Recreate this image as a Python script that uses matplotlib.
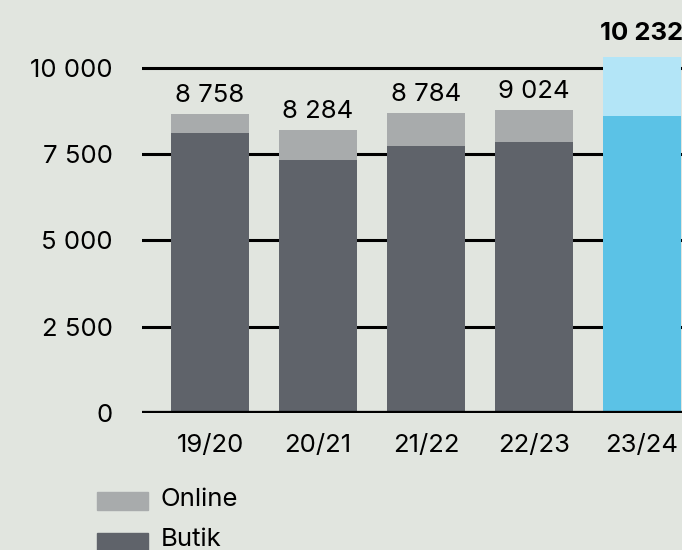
import numpy as np
import matplotlib.pyplot as plt
from matplotlib.patches import Rectangle

seasons = ["19/20", "20/21", "21/22", "22/23", "23/24"]
butik = [8106, 7325, 7730, 7846, 8597]
online = [549, 868, 963, 925, 1698]
totals = ["8 758", "8 284", "8 784", "9 024", "10 232"]
yticks = [0, 2500, 5000, 7500, 10000]
ytick_labels = ["0", "2 500", "5 000", "7 500", "10 000"]
series = ["Online", "Butik"]

BG = "#e1e5df"
DARK = "#5f636a"
LIGHT = "#a8abac"
BLUE = "#5bc2e6"
LIGHT_BLUE = "#b3e5f7"

plt.rcParams["font.family"] = ["Inter", "DejaVu Sans"]
FS = 18.5

fig = plt.figure(figsize=(6.82, 5.5), dpi=100, facecolor=BG)
ax = fig.add_axes([142 / 682, 137 / 550, 540 / 682, 380 / 550])
ax.set_facecolor(BG)

x = np.arange(len(seasons))
butik_colors = [DARK] * 4 + [BLUE]
online_colors = [LIGHT] * 4 + [LIGHT_BLUE]

ax.bar(x, butik, width=0.73, color=butik_colors, zorder=2)
ax.bar(x, online, width=0.73, bottom=butik, color=online_colors, zorder=2)

for y in yticks[1:]:
    ax.axhline(y, color="black", lw=2.2, zorder=1)
ax.axhline(0, color="black", lw=3.8, zorder=3)

for i, (b, o, t) in enumerate(zip(butik, online, totals)):
    last = i == len(seasons) - 1
    ax.annotate(t, (x[i], b + o), xytext=(0, 9 if last else 5),
                textcoords="offset points", ha="center", va="bottom",
                fontsize=FS, fontweight="bold" if last else "normal",
                annotation_clip=False)

ax.set_xlim(-0.63, 4.37)
ax.set_ylim(0, 11000)
ax.set_yticks(yticks)
ax.set_yticklabels(ytick_labels, fontsize=FS)
ax.set_xticks(x)
ax.set_xticklabels(seasons, fontsize=FS)
ax.tick_params(axis="y", length=0, pad=21)
ax.tick_params(axis="x", length=0, pad=15)
for s in ax.spines.values():
    s.set_visible(False)

# legend
for k, (name, col) in enumerate(zip(series, [LIGHT, DARK])):
    ytop = 492 + k * 41
    fig.add_artist(Rectangle((97 / 682, 1 - (ytop + 18) / 550), 51 / 682, 18 / 550,
                             transform=fig.transFigure, color=col))
    fig.text(161 / 682, 1 - (ytop + 7) / 550, name, fontsize=FS, va="center")

fig.savefig("out.png", dpi=100, facecolor=BG)
